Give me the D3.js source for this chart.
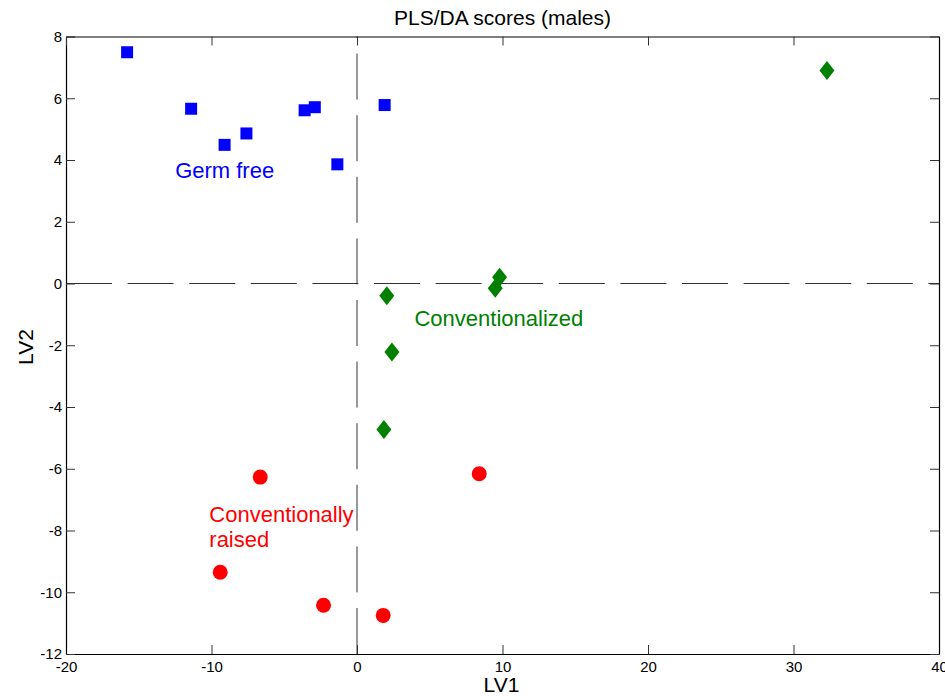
<!DOCTYPE html>
<html>
<head>
<meta charset="utf-8">
<script src="https://cdn.jsdelivr.net/npm/d3@7"></script>
<style>
  body { margin: 0; background: #fff; }
  svg { display: block; font-family: "Liberation Sans", Arial, sans-serif; }
</style>
</head>
<body>
<div id="chart"></div>
<script>
// PLS/DA score values
const germFreeX = [-15.8, -11.4, -9.1, -7.6, -3.6, -2.9, -1.35, 1.9];
const germFreeY = [7.49, 5.66, 4.49, 4.86, 5.61, 5.71, 3.86, 5.78];

const conventionalizedX = [32.3, 9.8, 9.5, 2.05, 2.4, 1.85];
const conventionalizedY = [6.9, 0.2, -0.15, -0.4, -2.22, -4.73];

const convRaisedX = [-6.65, 8.4, -9.4, -2.3, 1.8];
const convRaisedY = [-6.27, -6.16, -9.35, -10.42, -10.75];

const xTicks = [-20, -10, 0, 10, 20, 30, 40];
const yTicks = [-12, -10, -8, -6, -4, -2, 0, 2, 4, 6, 8];

const groupLabels = [
  { lines: ['Germ free'], x: -12.5, y: 3.43, color: '#0000ff' },
  { lines: ['Conventionalized'], x: 3.95, y: -1.39, color: '#008000' },
  { lines: ['Conventionally', 'raised'], x: -10.15, y: -7.71, color: '#ff0000' }
];

const width = 945, height = 696;
const margin = { top: 36.5, right: 6, bottom: 42, left: 66 };
const innerW = width - margin.left - margin.right;
const innerH = height - margin.top - margin.bottom;

const svg = d3.select('#chart').append('svg')
  .attr('width', width)
  .attr('height', height);

const g = svg.append('g')
  .attr('transform', `translate(${margin.left},${margin.top})`);

const x = d3.scaleLinear().domain([-20, 40]).range([0, innerW]);
const y = d3.scaleLinear().domain([-12, 8]).range([innerH, 0]);

// plain hyphen minus like the original figure
const fmt = d => String(d);

// zero lines (dashed)
g.append('line')
  .attr('x1', x(-20)).attr('x2', x(40))
  .attr('y1', y(0)).attr('y2', y(0))
  .attr('stroke', '#333').attr('stroke-width', 1)
  .attr('stroke-dasharray', '46,15.6');

g.append('line')
  .attr('x1', x(0)).attr('x2', x(0))
  .attr('y1', y(-12)).attr('y2', y(8))
  .attr('stroke', '#333').attr('stroke-width', 1)
  .attr('stroke-dasharray', '46,15.6');

// axes, ticks pointing inward on all four sides
g.append('g')
  .attr('transform', `translate(0,${innerH})`)
  .call(d3.axisBottom(x).tickValues(xTicks).tickFormat(fmt)
    .tickSizeInner(-9).tickSizeOuter(0).tickPadding(7));

g.append('g')
  .call(d3.axisLeft(y).tickValues(yTicks).tickFormat(fmt)
    .tickSizeInner(-9).tickSizeOuter(0).tickPadding(4));

g.append('g')
  .call(d3.axisTop(x).tickValues(xTicks).tickSizeInner(-9).tickSizeOuter(0).tickFormat(''));

g.append('g')
  .attr('transform', `translate(${innerW},0)`)
  .call(d3.axisRight(y).tickValues(yTicks).tickSizeInner(-9).tickSizeOuter(0).tickFormat(''));

g.selectAll('.tick text')
  .attr('font-family', '"Liberation Sans", Arial, sans-serif')
  .attr('font-size', 15)
  .attr('fill', '#000');
g.selectAll('.domain').attr('stroke', '#000').attr('stroke-width', 1.2);
g.selectAll('.tick line').attr('stroke', '#333');

// markers
g.selectAll('.germ-free')
  .data(d3.zip(germFreeX, germFreeY))
  .join('rect')
  .attr('class', 'germ-free')
  .attr('x', d => x(d[0]) - 6)
  .attr('y', d => y(d[1]) - 6)
  .attr('width', 12)
  .attr('height', 12)
  .attr('fill', '#0000ff');

g.selectAll('.conventionalized')
  .data(d3.zip(conventionalizedX, conventionalizedY))
  .join('path')
  .attr('class', 'conventionalized')
  .attr('d', 'M0,-9.5L7.5,0L0,9.5L-7.5,0Z')
  .attr('transform', d => `translate(${x(d[0])},${y(d[1])})`)
  .attr('fill', '#008000');

g.selectAll('.conv-raised')
  .data(d3.zip(convRaisedX, convRaisedY))
  .join('circle')
  .attr('class', 'conv-raised')
  .attr('cx', d => x(d[0]))
  .attr('cy', d => y(d[1]))
  .attr('r', 7.5)
  .attr('fill', '#ff0000');

// group labels
groupLabels.forEach(l => {
  const t = g.append('text')
    .attr('x', x(l.x))
    .attr('y', y(l.y))
    .attr('fill', l.color)
    .attr('font-size', 22);
  l.lines.forEach((line, i) => {
    t.append('tspan')
      .attr('x', x(l.x))
      .attr('dy', i === 0 ? 0 : 25)
      .text(line);
  });
});

// title and axis labels
svg.append('text')
  .attr('x', margin.left + innerW / 2)
  .attr('y', 25)
  .attr('text-anchor', 'middle')
  .attr('font-size', 21)
  .text('PLS/DA scores (males)');

svg.append('text')
  .attr('x', margin.left + innerW / 2 - 1)
  .attr('y', 692)
  .attr('text-anchor', 'middle')
  .attr('font-size', 21)
  .text('LV1');

svg.append('text')
  .attr('transform', 'translate(33,347) rotate(-90)')
  .attr('text-anchor', 'middle')
  .attr('font-size', 21)
  .text('LV2');
</script>
</body>
</html>
